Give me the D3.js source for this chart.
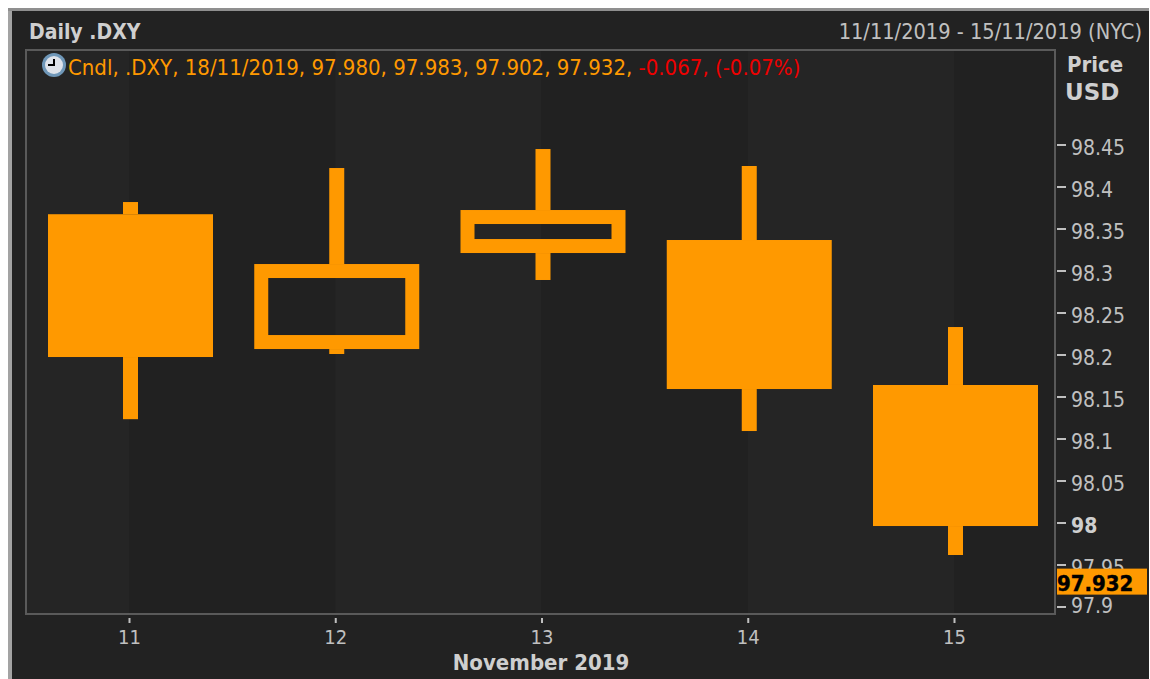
<!DOCTYPE html>
<html>
<head>
<meta charset="utf-8">
<script src="https://d3js.org/d3.v7.min.js"></script>
<style>
    html, body { margin: 0; padding: 0; background: #fff; overflow: hidden; }
    svg { display: block; }
    text { font-family: "DejaVu Sans Condensed", "DejaVu Sans", sans-serif; font-stretch: condensed; }
    .bold { font-weight: bold; }
</style>
</head>
<body>
<div id="chart"></div>
<script>
// Candles, one value per day
const days = [11, 12, 13, 14, 15];
const openValues = [98.367, 98.2065, 98.3208, 98.3363, 98.1637];
const highValues = [98.3815, 98.422, 98.4446, 98.4244, 98.2327];
const lowValues = [98.123, 98.2006, 98.2887, 98.1089, 97.9613];
const closeValues = [98.197, 98.3077, 98.372, 98.1589, 97.9958];

const priceTicks = [97.9, 97.95, 98, 98.05, 98.1, 98.15, 98.2, 98.25, 98.3, 98.35, 98.4, 98.45];
const lastPrice = 97.932;
const legendOrange = "Cndl, .DXY, 18/11/2019, 97.980, 97.983, 97.902, 97.932, ";
const legendRed = "-0.067, (-0.07%)";

const ORANGE = "#ff9900";
const LIGHT = "#c0c0c0";
const BOLD_LIGHT = "#cfcfcf";

const width = 1150;
const height = 679;
const plot = {left: 26, right: 1055, top: 50, bottom: 614};

const svg = d3.select("#chart")
    .append("svg")
    .attr("width", width)
    .attr("height", height);

// Scales
const xScale = d3.scaleLinear().domain([11, 15]).range([129, 954]);
const yScale = d3.scaleLinear().domain([97.9, 98.45]).range([606.5, 144.5]);

// Outer panel
svg.append("rect").attr("x", 8).attr("y", 8).attr("width", 1141).attr("height", 671).attr("fill", "#8f8f8f");
svg.append("rect").attr("x", 8).attr("y", 11).attr("width", 4).attr("height", 668).attr("fill", "#a3a3a3");
svg.append("rect").attr("x", 12).attr("y", 11).attr("width", 1137).attr("height", 668).attr("fill", "#222222");

// Alternating day bands
const bandEdges = [plot.left, ...days.map(d => xScale(d)), plot.right];
svg.selectAll(".band")
    .data(d3.pairs(bandEdges))
    .enter().append("rect")
    .attr("class", "band")
    .attr("x", d => d[0])
    .attr("y", plot.top)
    .attr("width", d => d[1] - d[0])
    .attr("height", plot.bottom - plot.top)
    .attr("fill", (d, i) => i % 2 === 0 ? "#252525" : "#212121");

// Candles
const candleOffset = 1.5;
const bodyWidth = 165;
const wickWidth = 15;
const hollowStroke = 14;
const candles = days.map((d, i) => ({
    day: d,
    open: openValues[i],
    high: highValues[i],
    low: lowValues[i],
    close: closeValues[i],
    up: closeValues[i] > openValues[i]
}));

// Wicks stop at the body so hollow candles stay empty
svg.selectAll(".wick-high")
    .data(candles)
    .enter().append("rect")
    .attr("class", "wick-high")
    .attr("x", d => xScale(d.day) + candleOffset - wickWidth / 2)
    .attr("y", d => yScale(d.high))
    .attr("width", wickWidth)
    .attr("height", d => yScale(Math.max(d.open, d.close)) - yScale(d.high))
    .attr("fill", ORANGE);

svg.selectAll(".wick-low")
    .data(candles)
    .enter().append("rect")
    .attr("class", "wick-low")
    .attr("x", d => xScale(d.day) + candleOffset - wickWidth / 2)
    .attr("y", d => yScale(Math.min(d.open, d.close)))
    .attr("width", wickWidth)
    .attr("height", d => yScale(d.low) - yScale(Math.min(d.open, d.close)))
    .attr("fill", ORANGE);

// Up days are hollow, down days are filled
svg.selectAll(".body")
    .data(candles)
    .enter().append("rect")
    .attr("class", "body")
    .attr("x", d => xScale(d.day) + candleOffset - bodyWidth / 2 + (d.up ? hollowStroke / 2 : 0))
    .attr("y", d => yScale(Math.max(d.open, d.close)) + (d.up ? hollowStroke / 2 : 0))
    .attr("width", d => d.up ? bodyWidth - hollowStroke : bodyWidth)
    .attr("height", d => Math.abs(yScale(d.open) - yScale(d.close)) - (d.up ? hollowStroke : 0))
    .attr("fill", d => d.up ? "none" : ORANGE)
    .attr("stroke", d => d.up ? ORANGE : "none")
    .attr("stroke-width", hollowStroke);

// Plot frame
svg.append("rect")
    .attr("x", plot.left)
    .attr("y", plot.top)
    .attr("width", plot.right - plot.left)
    .attr("height", plot.bottom - plot.top)
    .attr("fill", "none")
    .attr("stroke", "#5a5a5a")
    .attr("stroke-width", 2);

// X axis
const xAxis = svg.append("g")
    .attr("transform", "translate(0,618)")
    .call(d3.axisBottom(xScale).tickValues(days).tickSize(5).tickPadding(7).tickFormat(d3.format("d")));
xAxis.select(".domain").remove();
xAxis.selectAll("line").attr("stroke", LIGHT).attr("stroke-width", 2);
xAxis.selectAll("text").attr("fill", LIGHT).style("font-size", "20px");

svg.append("text")
    .attr("class", "bold")
    .attr("x", 541)
    .attr("y", 670)
    .attr("text-anchor", "middle")
    .attr("fill", BOLD_LIGHT)
    .style("font-size", "22px")
    .text("November 2019");

// Y axis
const yAxis = svg.append("g")
    .attr("transform", "translate(1057,0)")
    .call(d3.axisRight(yScale).tickValues(priceTicks).tickSize(9).tickPadding(5).tickFormat(d => String(+d.toFixed(2))));
yAxis.select(".domain").remove();
yAxis.selectAll("line").attr("stroke", LIGHT).attr("stroke-width", 2);
yAxis.selectAll("text")
    .attr("fill", LIGHT)
    .attr("dy", "0.47em")
    .style("font-size", "21px");
yAxis.selectAll(".tick")
    .filter(d => d === 98)
    .select("text")
    .attr("class", "bold")
    .attr("fill", BOLD_LIGHT);
// The bottom label sits a little above its tick
yAxis.selectAll(".tick")
    .filter(d => d === 97.9)
    .select("text")
    .attr("dy", "0.3em");

// Last price tag
svg.append("rect")
    .attr("x", 1057)
    .attr("y", yScale(lastPrice) - 11)
    .attr("width", 90)
    .attr("height", 26)
    .attr("fill", ORANGE);
svg.append("text")
    .attr("class", "bold")
    .attr("x", 1057)
    .attr("y", yScale(lastPrice) + 11)
    .attr("fill", "#000")
    .attr("stroke", "#000")
    .attr("stroke-width", 0.4)
    .style("font-size", "22px")
    .text(d3.format(".3f")(lastPrice));

// Header text
svg.append("text").attr("class", "bold")
    .attr("x", 29).attr("y", 39)
    .attr("fill", BOLD_LIGHT).style("font-size", "21px")
    .text("Daily .DXY");
svg.append("text")
    .attr("x", 1142).attr("y", 39)
    .attr("text-anchor", "end")
    .attr("fill", LIGHT).style("font-size", "21.6px")
    .text("11/11/2019 - 15/11/2019 (NYC)");
svg.append("text").attr("class", "bold")
    .attr("x", 1067).attr("y", 72)
    .attr("fill", BOLD_LIGHT).style("font-size", "22px")
    .text("Price");
svg.append("text").attr("class", "bold")
    .attr("x", 1065).attr("y", 100)
    .attr("fill", BOLD_LIGHT)
    .style("font-family", '"DejaVu Sans", sans-serif')
    .style("font-stretch", "normal")
    .style("font-size", "23px")
    .text("USD");

// Legend line
const legend = svg.append("text")
    .attr("x", 68).attr("y", 75)
    .style("font-size", "22px");
legend.append("tspan").attr("fill", ORANGE).text(legendOrange);
legend.append("tspan").attr("fill", "#ee0000").text(legendRed);

// Clock icon
const clock = svg.append("g").attr("transform", "translate(54,65)");
clock.append("circle").attr("r", 12).attr("fill", "#6f97b8");
clock.append("circle").attr("r", 9).attr("fill", "#dfe3ea");
clock.append("path")
    .attr("d", "M0,-6V0H-6")
    .attr("fill", "none")
    .attr("stroke", "#000")
    .attr("stroke-width", 2);
</script>
</body>
</html>
